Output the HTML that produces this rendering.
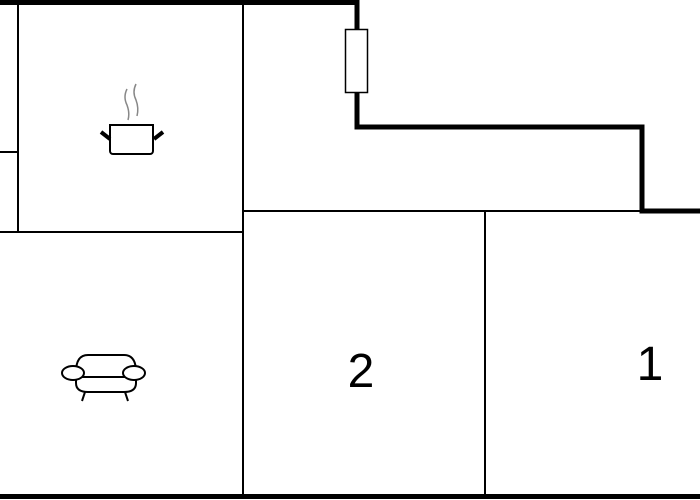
<!DOCTYPE html>
<html><head><style>body{margin:0;background:#fff}svg{display:block}</style></head><body>
<svg width="700" height="500" viewBox="0 0 700 500" xmlns="http://www.w3.org/2000/svg">
<rect width="700" height="500" fill="#fff"/>
<g stroke="#000" stroke-width="2" fill="none">
<line x1="18" y1="0" x2="18" y2="232"/>
<line x1="0" y1="152" x2="18" y2="152"/>
<line x1="243" y1="0" x2="243" y2="496"/>
<line x1="0" y1="232" x2="243" y2="232"/>
<line x1="243" y1="211" x2="700" y2="211"/>
<line x1="485" y1="211" x2="485" y2="496"/>
</g>
<polyline points="0,2.5 357,2.5 357,127 642,127 642,211 700,211" stroke="#000" stroke-width="5" fill="none"/>
<line x1="0" y1="496.5" x2="700" y2="496.5" stroke="#000" stroke-width="5"/>
<rect x="345.5" y="29.5" width="22" height="63" fill="#fff" stroke="#000" stroke-width="1.5"/>
<!-- pot -->
<g stroke="#000" fill="none">
<path d="M110,125 H153 V151 a3,3 0 0 1 -3,3 H113 a3,3 0 0 1 -3,-3 Z" stroke-width="2"/>
<line x1="101" y1="132" x2="110" y2="139" stroke-width="4"/>
<line x1="163" y1="132" x2="154" y2="139" stroke-width="4"/>
</g>
<g stroke="#888" stroke-width="1.5" fill="none">
<path d="M127,89 q-4,8 0,16 q3,8 1,15"/>
<path d="M136,84 q-4,8 0,16 q3,8 1,16"/>
</g>
<!-- sofa -->
<g stroke="#000" stroke-width="2" fill="#fff">
<path d="M76,372 q0,-17 12,-17 H124 q12,0 12,17 V383 q0,9 -12,9 H88 q-12,0 -12,-9 Z"/>
<line x1="82" y1="377" x2="130" y2="377"/>
<ellipse cx="73" cy="373" rx="11" ry="7"/>
<ellipse cx="134" cy="373" rx="11" ry="7"/>
<line x1="85" y1="392" x2="82" y2="401"/>
<line x1="125" y1="392" x2="128" y2="401"/>
</g>
<text x="361" y="387" font-family="Liberation Sans, sans-serif" font-size="48" text-anchor="middle">2</text>
<text x="650" y="380" font-family="Liberation Sans, sans-serif" font-size="48" text-anchor="middle">1</text>
</svg>
</body></html>
